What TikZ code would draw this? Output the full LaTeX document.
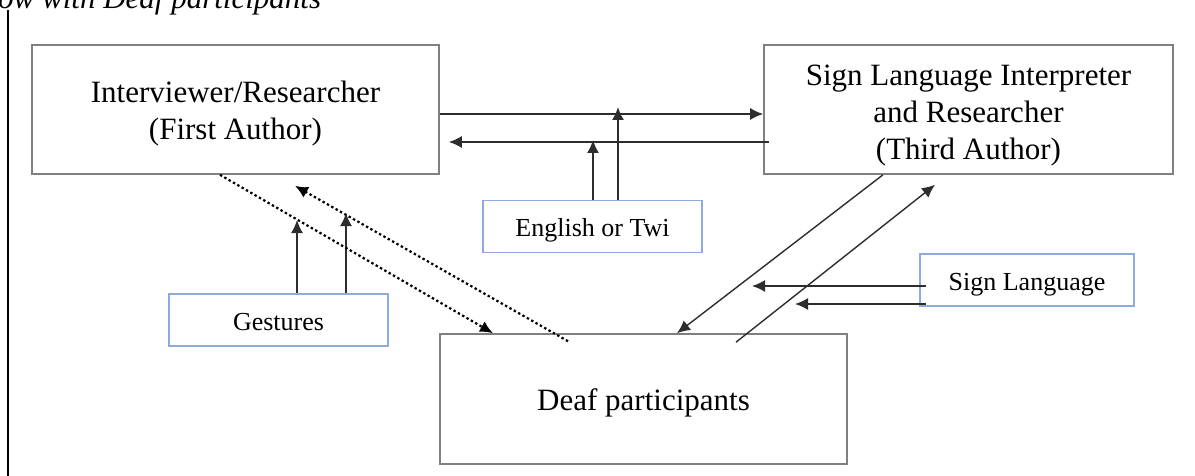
\documentclass[tikz,border=0pt]{standalone}
\usepackage{fontspec}
\setmainfont{Liberation Serif}
\usetikzlibrary{arrows.meta}
\definecolor{boxgray}{RGB}{128,128,128}
\definecolor{boxblue}{RGB}{143,170,220}
\definecolor{linegray}{RGB}{45,45,45}

\begin{document}
\begin{tikzpicture}[x=1pt,y=-1pt,
	bigbox/.style={draw=boxgray, line width=1.6pt, align=center, inner sep=0pt,
		minimum width=407pt, minimum height=129pt, text depth=8pt, font=\fontsize{31}{37}\selectfont},
	smallbox/.style={draw=boxblue, line width=1.6pt, inner sep=0pt, text height=26pt, text depth=6pt,
		minimum width=219pt, minimum height=52pt, font=\fontsize{26}{30}\selectfont},
	arr/.style={-{Latex[length=13pt,width=12pt]}, line width=1.6pt, draw=linegray},
	dotarr/.style={arr, draw=black, line width=2.2pt, dash pattern=on 2.4pt off 2.6pt}]
		\useasboundingbox (0,0) rectangle (1195,476);
		\node[anchor=base west, inner sep=0pt, font=\fontsize{31}{37}\selectfont\itshape] (cap) at (-2,9) {ow with Deaf participants};
		\draw[line width=2pt] (8,10) -- (8,480);
		\node[bigbox, text height=69pt] (intv) at (235.5,109.5) {Interviewer/Researcher\\(First Author)};
		\node[bigbox, text height=109pt, minimum width=409pt] (sli) at (968.5,109.5) {Sign Language Interpreter\\and Researcher\\(Third Author)};
		\node[bigbox, text height=30pt, minimum height=130pt] (deaf) at (643.5,399) {Deaf participants};
		\node[smallbox] (eng) at (592.5,226.5) {English or Twi};
		\node[smallbox] (gest) at (278.5,320) {Gestures};
		\node[smallbox, minimum width=214pt] (sign) at (1027,280) {Sign Language};
		\coordinate (engA) at (618,107);
		\coordinate (engB) at (593,140);
		\coordinate (gestA) at (297,220);
		\coordinate (gestB) at (346,213);
		\coordinate (signA) at (752,286);
		\coordinate (signB) at (795,304);
		\draw[arr] ([yshift=-4.5pt]intv.east) -- ([yshift=-4.5pt]sli.west);
		\draw[arr] ([xshift=6pt,yshift=-32.5pt]sli.west) -- ([xshift=9pt,yshift=-32.5pt]intv.east);
		\draw[arr] ([xshift=25.5pt]eng.north) -- (engA);
		\draw[arr] ([xshift=0.5pt]eng.north) -- (engB);
		\draw[arr] ([xshift=18.5pt]gest.north) -- (gestA);
		\draw[arr] ([xshift=67.5pt]gest.north) -- (gestB);
		\draw[dotarr] ([xshift=-15.5pt]intv.south) -- ([xshift=-150.5pt]deaf.north);
		\draw[dotarr] ([xshift=-75.5pt,yshift=-8pt]deaf.north) -- ([xshift=59.5pt,yshift=-11pt]intv.south);
		\draw[arr, line width=1.4pt] ([xshift=-85.5pt]sli.south) -- ([xshift=33.5pt]deaf.north);
		\draw[arr, line width=1.4pt] ([xshift=92.5pt,yshift=-9pt]deaf.north) -- ([xshift=-33.5pt,yshift=-10pt]sli.south);
		\draw[arr] ([xshift=7pt,yshift=-6pt]sign.west) -- (signA);
		\draw[arr] ([xshift=7pt,yshift=-24pt]sign.west) -- (signB);
\end{tikzpicture}
\end{document}
